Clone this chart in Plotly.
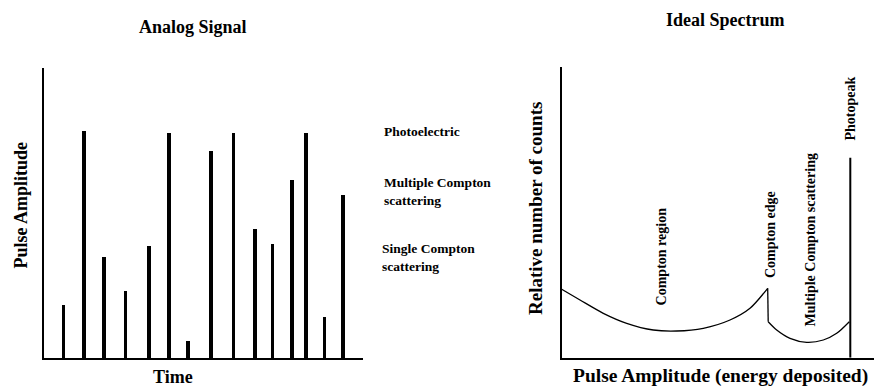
import plotly.graph_objects as go

# ---- Left panel: analog signal pulses ----
pulse_times = [19.4, 39.7, 60.0, 81.4, 104.7, 125.0, 143.7, 166.7, 189.4,
               211.0, 228.4, 247.7, 262.0, 280.4, 299.0]
pulse_amplitudes = [52.6, 227.3, 100.6, 66.6, 111.6, 224.6, 16.6, 206.6, 224.6,
                    129.0, 114.0, 178.3, 224.6, 41.0, 163.3]

# ---- Right panel: ideal spectrum ----
compton_x = [0, 18.3, 41.6, 65.0, 91.6, 115.0, 141.6, 168.3, 188.3, 206.0]
compton_y = [68.4, 57.7, 44.4, 34.4, 27.7, 26.7, 29.4, 37.7, 49.4, 69.4]
edge_x = [206.0, 206.5]
edge_y = [69.4, 36.0]
multi_x = [206.5, 215.0, 228.3, 245.0, 261.6, 275.0, 287.6]
multi_y = [36.0, 27.7, 19.4, 15.4, 17.7, 24.4, 36.0]
photopeak_x = [288.6, 288.6]
photopeak_y = [0, 200.0]

W, H = 874, 387
FONT = "Liberation Serif"

fig = go.Figure()

fig.add_trace(go.Bar(x=pulse_times, y=pulse_amplitudes, width=3.6,
                     marker=dict(color="black", line=dict(width=0)),
                     xaxis="x", yaxis="y", showlegend=False))

line_style = dict(color="black", width=1.3)
fig.add_trace(go.Scatter(x=compton_x, y=compton_y, mode="lines",
                         line=dict(shape="spline", smoothing=0.8, **line_style),
                         xaxis="x2", yaxis="y2", showlegend=False))
fig.add_trace(go.Scatter(x=edge_x, y=edge_y, mode="lines", line=line_style,
                         xaxis="x2", yaxis="y2", showlegend=False))
fig.add_trace(go.Scatter(x=multi_x, y=multi_y, mode="lines",
                         line=dict(shape="spline", smoothing=0.8, **line_style),
                         xaxis="x2", yaxis="y2", showlegend=False))
fig.add_trace(go.Scatter(x=photopeak_x, y=photopeak_y, mode="lines",
                         line=dict(color="black", width=2),
                         xaxis="x2", yaxis="y2", showlegend=False))

def px(x):
    return x / W

def py(y):
    return 1 - y / H

axis_common = dict(showline=True, linecolor="black", linewidth=2, showgrid=False,
                   zeroline=False, showticklabels=False, ticks="", fixedrange=True)

fig.update_layout(
    width=W, height=H,
    margin=dict(l=0, r=0, t=0, b=0),
    paper_bgcolor="white", plot_bgcolor="white",
    bargap=0,
    hovermode=False,
    xaxis=dict(domain=[px(44.3), px(363)], range=[0, 318.7], anchor="y", **axis_common),
    yaxis=dict(domain=[py(358.3), py(68.3)], range=[0, 290], anchor="x", **axis_common),
    xaxis2=dict(domain=[px(561.7), 1.0], range=[0, 312.3], anchor="y2", **axis_common),
    yaxis2=dict(domain=[py(357.7), py(66.7)], range=[0, 291], anchor="x2", **axis_common),
)

def ann(text, x, y, size, angle=0, xanchor="center", yanchor="middle", align="center"):
    fig.add_annotation(text=text, x=px(x), y=py(y), xref="paper", yref="paper",
                       showarrow=False, textangle=angle, xanchor=xanchor, yanchor=yanchor,
                       align=align,
                       font=dict(family=FONT, size=size, color="black", weight="bold"))

# Titles and axis labels
ann("Analog Signal", 193, 27, 18)
ann("Ideal Spectrum", 725, 20, 18)
ann("Time", 173, 377, 18)
ann("Pulse Amplitude", 20, 205.5, 18, angle=-90)
ann("Relative number of counts", 535, 209, 19, angle=-90)
ann("Pulse Amplitude (energy deposited)", 720, 376, 19.5)

# Left side legend-like labels
ann("Photoelectric", 382, 131, 13.5, xanchor="left", align="left")
ann("Multiple Compton<br>scattering", 382, 191.5, 13.5, xanchor="left", align="left")
ann("Single Compton<br>scattering", 380, 257, 13.5, xanchor="left", align="left")

# Spectrum region labels
ann("Compton region", 661.7, 256.7, 14, angle=-90)
ann("Compton edge", 770, 235, 14, angle=-90)
ann("Multiple Compton scattering", 810, 240.5, 14, angle=-90)
ann("Photopeak", 850, 108.5, 14, angle=-90)

fig.write_html("out.html", config={"displayModeBar": False},
               post_script="document.body.style.margin='0';")
